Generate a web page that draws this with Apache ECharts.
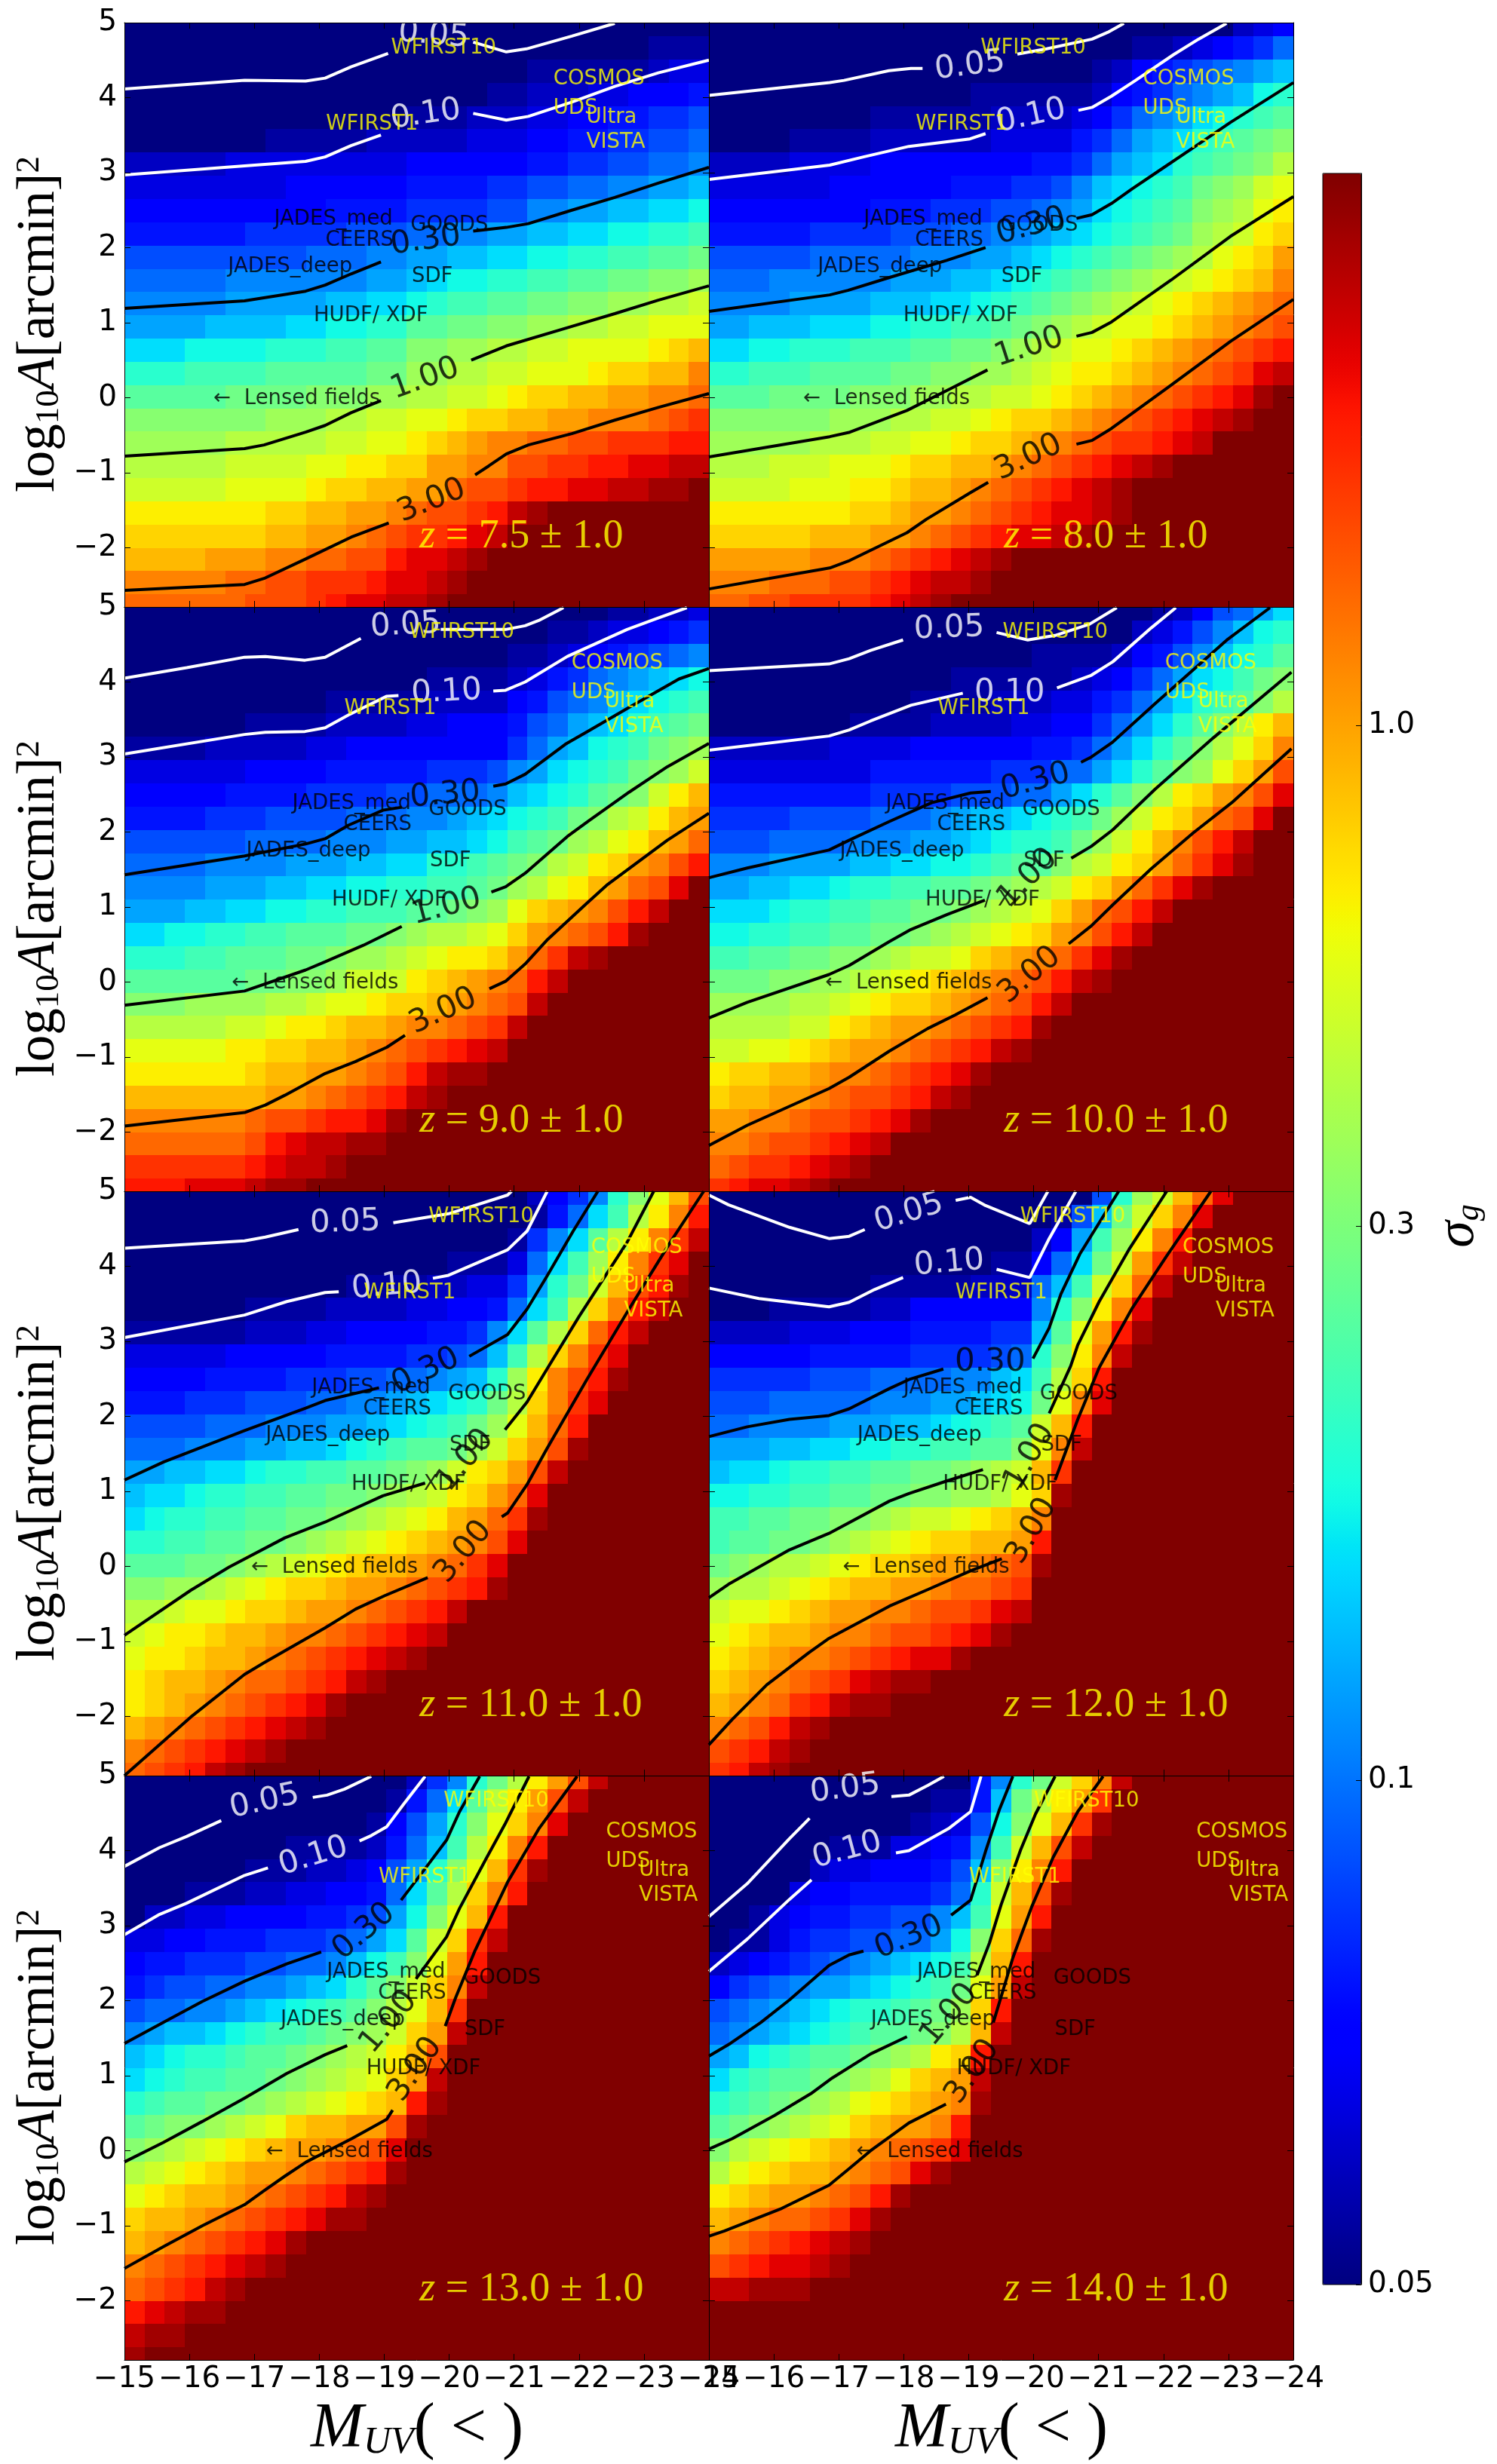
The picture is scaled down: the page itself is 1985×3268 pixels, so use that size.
<!DOCTYPE html>
<html><head><meta charset="utf-8">
<style>html,body{margin:0;padding:0;background:#fff}#c{width:1985px;height:3268px}</style>
<script src="https://cdn.jsdelivr.net/npm/echarts@6/dist/echarts.min.js"></script>
</head><body><div id="c"></div>
<script>
// sigma_g heat-map cells, one string per row (top to bottom),
// one character per M_UV column: index into the colour bar (0 = bottom, z = top). Short rows repeat their last cell.
const cellsZ75=["0","00000000000000000000000000111","00000000000000000000111111233","00000000000000000011222334445","00000000000000111222334455667","00000001111122222333445566778","22222333333333444444556677889","33333333444444555566778899aab","4444444444555566667799aabbccd","555555666667778899aabbccddeef","77777777788899aabbccddeeffggh","888889999999aabcddeeffgghhiij","99999aaaaabbccdeffgghhiijjkkl","aaaabbbbccddeegghhiijjkkllmmm","cccddddeeeffggiijjkkllmmmmnop","eeeffffggggghhjjkkllmmmnooppr","ggggghhhhiiijjkkllmnooppqqrrs","iiiiiiijjjkkllmmnooppqqrrrstu","jjjjjkkkkkllmmnopqrrssttuuuvv","kkkkkllllmmnnooqqrrttuuvvwwxx","lllllmmmmnooppqqsttuvvwwxxyyz","nnnnnnnooppqqrsttuvxyz","oooooooppqqrstuuvwxz","ppppqqqrrssttvwwxyz","rrrrrssttuuuvwwxyz","sssssstttuvwwxxyz"];
const cellsZ80=["00000000000000000000000000234","00000000000000000000011234568","000000000000000000012456789ab","0000000000000111111245689abde","00000000111111222234689acdefg","000011112222223333568abcefghi","22223333444444445568abcefghik","3333334444445556679bcdefhijlm","444444445556667789acdefgijkmn","5555566667778899abcdefghjklno","7777788888999aabcdefghijkmnoq","888999999aaabbcdefghijklmnopr","9999aaaabbbccdefghijklmnopqrs","aabbbcccddeeffghijklmmnopqrst","ccddeeefffgghhijklmmnopqrstuv","eefffgggghhiijjklmnnopqrstuwx","ggghhhhiiijjkkllmnopqrstuvwyz","iiiiiijjjkkllmnoopqrstuvwxyz","jjjjjkkkllmmnoopqrstuuvwxz","kkklllmmmnooppqrstuvwxyz","llllmmmnnoppqrstuvwxyz","nnnnnnnoopqqrstuvwwxyz","ooooopppqqrstuvwwxyz","qqqqqrrrstuvwxyz","rrrsssttuvwxxyz","ssttuuuuvwxyz"];
const cellsZ90=["00000000000000000000000011223","00000000000000000000011233456","00000000000000000001123456789","0000000000000001111235689abcd","000000000011111222245789bcdef","0000001111222233444578abcefgh","111122222334444444468abdefhij","33333344445555566679acdefhijl","4444455556666778889bcdeghilnp","5555666777788899abcdefhiklnpq","7777778888999aabbcdfghjkmnpqs","88889999aaabbcceefghiklnoqrtv","9999aaabbccddeeffghjkmnpqstwz","aaabbccddeefffgghijmopqrtvxz","ccddeeffggghhijkklmoqrstvyz","eeeffggghhijjklmnnoqsuxyz","gggggghhiijlllnopqrsvxz","iiijjjjkklmmnoopqrstxz","kkkkkllmnnoppqrrstuxz","mmmmmnnooppqrstuvwxz","nnnnnnoppqqrstvxyyz","pppppppqqrstuvxyz","rrrrrrsttuvvwyz","sssssstvwxxyyz","uuuuuuvwxxyz","vvvwwwxyyz"];
const cellsZ100=["000000000000000000000012478ac","00000000000000000000023579bde","00000000000000001111245 79bdeg".replace(" ",""),"00000000000011111123468acdfhi","0000000000111122233568acefgik","00000001111222233 4468acegiknp".replace(" ",""),"22222233334444445568acegikmor","3333333355555566688acegijmoqt","55555555666677788acegiknoqrtw","666677778889abbcdefhjlnoqstwz","77788889 99aabcdeefhjlnprtvxz".replace(" ",""),"999aaaabbccddefggiklnoqsuwyz","aabbccdeeffgghijklnoqsuwyz","cccdeeffgghhijklmoqstvxz","ddeeffgghhijklmnoqrtvxz","ffgghhiijkllmopqrsuwyz","hhhiijjklmnopqrstvxyz","jjjjkklmnoopqrstvxz","kkkkllnopqqrstuvyz","llmmnopqqrstuvxyz","nooppqrrstuvwyz","oppqqrsttuvxyz","qqrrsttuvwyz","rrsttuvwxz","stuuvwxyz","uvwwxyz"];
const cellsZ110=["000000000000000000002469eimpt","00000000000000000000158cfknrv","0000000000000000000169cgknrux","000000000000000011138cfjnruwz","000000000001111223 36aehlptvyz".replace(" ",""),"000000111122223344 58cfkorvxz".replace(" ",""),"11111122233444455 69cgkosvxz".replace(" ",""),"333334444455556678bfkoruwz","4444555566677889abejnrtvyz","5556667778899abcdehkoruwz","7777888999aabcdefhjmpsvz","888999aabbcdefgghjloqtyz","aabbccdeeffgghijlnoqtxz","bccdeeffgghhijklnoqswz","cdeeffgghhijklmnpqsuyz","eeffgghhijklmnopqrtwz","ggghhijklmnoppqrsuwz","iijjklmnoopqqrstuvyz","kklmmnoopqqrstuvxz","lmnnoppqrrstuvwxz","mnnoppqrstuvwxyz","noppqrsstuvxyz","nopqrstuvwyz","pqrstuvwxyz","rstuvwxyz","stuvxyz"];
const cellsZ120=["00000000000000000007ejlpswz","000000000000000001 7bhlorwz".replace(" ",""),"000000000000000024afjnrvz","000000000000001148chlquxz","00000000111112228bflosxz","000111112244444 49einrwz".replace(" ",""),"2222333444555566bgmqvyz","4444455555666678einrxz","66666777888899bcfkovz","77788888999aabcdhmrwz","889999aaabbcdefglpvz","aaabbccddeeffggimrxz","bccdeeffgghhijklpuz","ddeeffgghhiijjkmoyz","ffgghhiijkllmnoprz","fgghhijklmnooppqvz","hijkklmnoopqqrstyz","jkklmnoppqqrsstuz","lmmnopqqrrsttuwxz","mnoppqrrsttuvwyz","nopqrrstuvwwyz","opqrstuwxyyz","pqrsuvxyyz","rstvxyz","tuvxyz","uvxyz"];
const cellsZ130=["00000000000000269ehknqtxz","0000000000000158cgknqtxz","000000000000147aeimorwz","000000001111258bfknrvz","00000011122347aeimpuyz","00011122334458cgkorvz","0223344445567adimpvz","334455566678acglouxz","45566677889bdfimqvz","56778899abcegilorxz","78899abcdefgikmpuz","9abbcdeffghijloqxz","bcdeefgghijklnptz","cdeffgghijklmoqxz","efgghhijklmnopvyz","ghiijklmoppqqtyz","ijklmnopqqrstwz","klmnopqqrstuvyz","mnoppqrstuvxyz","oppqrstuvwyyz","pqrstuvwyz","rstuvwxyz","stuvxyz","vwxyyz","xyyz","yz"];
const cellsZ140=["000000000000059ehlorxz","00000000000115bhknquz","00000000001237dimpuyz","00000011133459flptxz","0000023344457binrvz","000034455556 8elptyz".replace(" ",""),"00134556677 9bfmqvz".replace(" ",""),"01135667788adiosyz","23456789abcdfkpvz","46789aabcdefhmqxz","789abcdeefghjovz","89abcdefgghikpxz","abdefgghijknovz","cefgghijkmopqxz","efghijkmnopqryz","ghijklmopqqrvz","iklmnopqrstuwz","kmnoppqrstwyz","nopqqrstvyz","pqrsstuwyz","rstuvwxyz","tuvwwxyz","xxyyyz","z","z","z"];

// Contours: sigma_g levels, each as [segment before its label, segment after]; points are [M_UV, log10 A]
const contourLevels=["0.05","0.10","0.30","1.00","3.00"];
const linesZ75=[
[[[-15,4.115],[-16.85,4.23],[-17.79,4.22],[-18.09,4.26],[-18.49,4.41],[-19.06,4.59]],[[-20.37,4.74],[-20.88,4.61],[-21.19,4.65],[-21.89,4.82],[-22.55,4.99]]],
[[[-15,2.97],[-16.85,3.09],[-17.79,3.15],[-18.09,3.21],[-18.49,3.36],[-18.95,3.5]],[[-20.37,3.79],[-20.88,3.7],[-21.22,3.75],[-21.89,3.94],[-22.55,4.15],[-23.22,4.33],[-24,4.5]]],
[[[-15,1.19],[-16.85,1.29],[-17.79,1.42],[-18.09,1.5],[-18.49,1.65],[-18.95,1.81]],[[-20.37,2.22],[-20.88,2.27],[-21.22,2.32],[-21.89,2.5],[-22.55,2.67],[-23.22,2.86],[-24,3.07]]],
[[[-15,-0.78],[-16.85,-0.68],[-17.15,-0.63],[-17.79,-0.46],[-18.09,-0.37],[-18.49,-0.2],[-18.95,-0.04]],[[-20.34,0.5],[-20.88,0.69],[-21.89,0.95],[-22.55,1.12],[-23.22,1.3],[-24,1.49]]],
[[[-15,-2.57],[-16.85,-2.49],[-17.15,-2.41],[-17.79,-2.15],[-18.49,-1.86],[-19.07,-1.67]],[[-20.4,-1.03],[-20.61,-0.91],[-20.88,-0.75],[-21.22,-0.63],[-21.89,-0.48],[-22.55,-0.3],[-23.22,-0.13],[-24,0.055]]]];
const linesZ80=[
[[[-15,4.03],[-16.86,4.2],[-17.08,4.23],[-17.77,4.36],[-18.11,4.39],[-18.29,4.39]],[[-19.75,4.58],[-20.2,4.65],[-20.9,4.78],[-21.14,4.87],[-21.39,4.99]]],
[[[-15,2.91],[-16.86,3.1],[-17.38,3.21],[-18.08,3.35],[-19.02,3.45],[-19.26,3.52]],[[-20.69,3.83],[-20.9,3.87],[-21.2,4.02],[-21.57,4.23],[-22.15,4.57],[-22.54,4.78],[-22.97,4.99]]],
[[[-15,1.15],[-16.86,1.37],[-17.14,1.43],[-17.81,1.61],[-18.66,1.83],[-19.26,2]],[[-20.66,2.39],[-20.9,2.44],[-21.2,2.59],[-21.51,2.78],[-21.87,2.99],[-22.54,3.38],[-23.03,3.67],[-24,4.2]]],
[[[-15,-0.79],[-16.86,-0.52],[-17.17,-0.46],[-18.05,-0.17],[-18.72,0.12],[-19.29,0.37]],[[-20.66,0.82],[-20.9,0.87],[-21.2,1.01],[-22.12,1.57],[-23.03,2.15],[-24,2.68]]],
[[[-15,-2.55],[-16.86,-2.27],[-17.17,-2.17],[-18.05,-1.8],[-18.35,-1.62],[-19.02,-1.27],[-19.3,-1.13]],[[-20.66,-0.62],[-20.9,-0.57],[-21.2,-0.41],[-22.12,0.17],[-23.03,0.75],[-24,1.31]]]];
const linesZ90=[
[[[-15,4.05],[-15.96,4.19],[-16.85,4.33],[-17.17,4.34],[-17.78,4.29],[-18.09,4.33],[-18.64,4.58]],[[-19.87,4.7],[-20.58,4.7],[-20.87,4.7],[-21.17,4.75],[-21.38,4.82],[-21.76,4.99]]],
[[[-15,3.04],[-16.85,3.3],[-17.17,3.33],[-17.78,3.34],[-18.09,3.39],[-18.45,3.56],[-19.04,3.81],[-19.22,3.82]],[[-20.68,3.88],[-20.87,3.89],[-21.17,4],[-21.82,4.34],[-22.74,4.7],[-23.18,4.84],[-23.66,4.99]]],
[[[-15,1.43],[-16.85,1.68],[-17.79,1.84],[-18.09,1.91],[-18.45,2.09],[-18.98,2.29],[-19.27,2.33]],[[-20.68,2.61],[-20.87,2.64],[-21.17,2.77],[-21.79,3.17],[-22.15,3.35],[-22.77,3.66],[-23.54,4.04],[-24,4.18]]],
[[[-15,-0.31],[-16.85,-0.12],[-17.79,0.16],[-18.09,0.27],[-18.68,0.49],[-19.27,0.74]],[[-20.65,1.2],[-20.87,1.27],[-21.17,1.45],[-21.82,1.94],[-22.15,2.15],[-22.77,2.53],[-23.36,2.87],[-24,3.18]]],
[[[-15,-1.92],[-16.85,-1.74],[-17.17,-1.64],[-17.47,-1.51],[-18.09,-1.22],[-18.56,-1.06],[-19.04,-0.87],[-19.32,-0.71]],[[-20.62,-0.09],[-20.87,0.01],[-21.17,0.24],[-21.52,0.57],[-22.12,1.05],[-22.44,1.3],[-23.36,1.89],[-24,2.25]]]];
const linesZ100=[
[[[-15,4.15],[-16.85,4.24],[-17.16,4.31],[-17.49,4.42],[-17.99,4.56]],[[-19.43,4.66],[-19.91,4.56],[-20.33,4.62],[-20.86,4.77],[-21.28,4.99]]],
[[[-15,3.09],[-16.85,3.28],[-17.16,3.36],[-17.49,3.48],[-18.11,3.69],[-18.91,3.85]],[[-20.36,3.92],[-20.89,4.09],[-21.22,4.27],[-21.81,4.72],[-22.19,4.99]]],
[[[-15,1.39],[-15.59,1.52],[-16.85,1.76],[-17.16,1.89],[-17.78,2.14],[-18.43,2.39],[-19.03,2.52],[-19.34,2.54]],[[-20.73,2.93],[-20.89,3],[-21.22,3.2],[-21.87,3.71],[-22.99,4.57],[-23.64,4.99]]],
[[[-15,-0.48],[-15.59,-0.27],[-16.85,0.1],[-17.16,0.22],[-17.78,0.54],[-18.11,0.7],[-18.67,0.9],[-19.25,1.09]],[[-20.58,1.65],[-20.89,1.81],[-21.22,2.03],[-21.87,2.57],[-22.76,3.25],[-23.97,4.13]]],
[[[-15,-2.18],[-15.59,-1.91],[-16.85,-1.42],[-17.16,-1.27],[-17.78,-0.92],[-18.37,-0.62],[-18.79,-0.44],[-19.29,-0.21]],[[-20.54,0.51],[-20.89,0.75],[-21.22,1.03],[-21.81,1.51],[-22.46,1.99],[-23.05,2.39],[-23.97,3.11]]]];
const linesZ110=[
[[[-15,4.24],[-16.85,4.34],[-17.17,4.39],[-17.68,4.49]],[[-19.14,4.58],[-19.99,4.7],[-20.9,4.95],[-20.96,5]]],
[[[-15,3.05],[-16.85,3.35],[-17.5,3.53],[-18.09,3.65],[-18.3,3.66]],[[-19.75,3.84],[-19.99,3.88],[-20.9,4.22],[-21.2,4.47],[-21.51,5]]],
[[[-15,1.15],[-15.6,1.39],[-16.85,1.81],[-17.79,2.11],[-18.09,2.21],[-18.92,2.38]],[[-20.31,2.8],[-20.9,3.09],[-21.2,3.43],[-21.5,3.86],[-21.91,4.47],[-22.29,5]]],
[[[-15,-0.92],[-16.02,-0.32],[-16.61,-0.01],[-17.47,0.38],[-18.09,0.59],[-18.98,0.94],[-19.63,1.11]],[[-20.86,1.82],[-21.2,2.19],[-21.5,2.62],[-22,3.33],[-22.74,4.32],[-23.15,5]]],
[[[-15,-2.79],[-16.02,-2.01],[-16.85,-1.44],[-17.14,-1.29],[-18.09,-0.82],[-18.56,-0.57],[-19.01,-0.39],[-19.67,-0.15]],[[-20.81,0.66],[-20.9,0.71],[-21.2,1.09],[-21.5,1.56],[-22.12,2.49],[-22.77,3.43],[-23.42,4.34],[-23.92,5]]]];
const linesZ120=[
[[[-15,4.95],[-15.3,4.82],[-16.24,4.52],[-16.85,4.37],[-17.16,4.4],[-17.4,4.49]],[[-18.8,4.88],[-19.03,4.92],[-19.26,4.81],[-19.94,4.57],[-20.09,4.8],[-20.22,5]]],
[[[-15,3.71],[-15.77,3.57],[-16.85,3.46],[-17.16,3.52],[-17.55,3.69],[-17.99,3.85]],[[-19.43,3.96],[-19.94,3.85],[-20.24,4.37],[-20.65,5]]],
[[[-15,1.73],[-15.59,1.86],[-16.24,1.96],[-16.85,2.01],[-17.16,2.1],[-17.78,2.37],[-18.08,2.49],[-18.61,2.63]],[[-19.99,2.77],[-20.24,3.18],[-20.42,3.63],[-20.71,4.16],[-21.31,5]]],
[[[-15,-0.42],[-15.3,-0.24],[-16.24,0.22],[-16.85,0.44],[-17.78,0.87],[-18.08,0.97],[-18.67,1.14],[-19.22,1.29]],[[-20.24,2.04],[-20.57,2.67],[-20.68,2.95],[-21.01,3.53],[-21.48,4.24],[-22.05,5]]],
[[[-15,-2.38],[-15.36,-2.04],[-15.89,-1.58],[-16.54,-1.15],[-16.85,-0.96],[-17.78,-0.53],[-18.37,-0.31],[-19.03,-0.06],[-19.51,0.1]],[[-20.33,1.15],[-20.68,1.96],[-21.01,2.65],[-21.51,3.43],[-22.05,4.14],[-22.73,5]]]];
const linesZ130=[
[[[-15,3.79],[-15.54,4.04],[-15.96,4.19],[-16.49,4.4]],[[-17.9,4.71],[-18.12,4.74],[-18.39,4.82],[-18.8,4.99]]],
[[[-15,2.88],[-15.54,3.15],[-15.96,3.3],[-16.85,3.67],[-17.21,3.77]],[[-18.62,4.13],[-18.8,4.2],[-19.04,4.32],[-19.3,4.62],[-19.63,4.99]]],
[[[-15,1.43],[-15.6,1.71],[-16.2,1.99],[-16.85,2.26],[-17.5,2.49],[-18.03,2.65]],[[-19.26,3.34],[-19.63,3.76],[-19.96,4.14],[-20.16,4.52],[-20.47,4.99]]],
[[[-15,-0.15],[-15.6,0.11],[-16.2,0.39],[-16.85,0.7],[-17.5,1.03],[-18.09,1.28],[-18.43,1.4]],[[-19.49,2.29],[-19.96,2.85],[-20.16,3.23],[-20.58,3.91],[-20.87,4.37],[-21.23,4.99]]],
[[[-15,-1.57],[-15.6,-1.28],[-16.2,-1],[-16.85,-0.72],[-17.14,-0.54],[-17.47,-0.34],[-17.8,-0.15],[-18.5,0.16],[-19.04,0.42],[-19.13,0.54]],[[-19.94,1.66],[-20.1,2.04],[-20.4,2.67],[-20.9,3.58],[-21.38,4.29],[-21.97,4.99]]]];
const linesZ140=[
[[[-15,3.12],[-15.59,3.56],[-16.24,4.16],[-16.55,4.43]],[[-17.81,4.72],[-18.08,4.74],[-18.37,4.87],[-18.62,4.99]]],
[[[-15,2.39],[-15.59,2.82],[-16.24,3.35],[-16.58,3.61]],[[-17.88,3.97],[-18.08,4],[-18.7,4.3],[-19.03,4.52],[-19.19,4.99]]],
[[[-15,1.26],[-15.33,1.43],[-15.8,1.71],[-16.24,2.01],[-16.85,2.47],[-17.16,2.61],[-17.38,2.66]],[[-18.73,3.14],[-19.03,3.34],[-19.26,3.99],[-19.47,4.54],[-19.68,4.99]]],
[[[-15,0.02],[-15.36,0.16],[-16.01,0.47],[-16.57,0.76],[-16.9,0.97],[-17.49,1.29],[-18.05,1.52]],[[-19.13,2.34],[-19.32,2.77],[-19.5,3.28],[-19.8,4.01],[-20.03,4.49],[-20.33,4.99]]],
[[[-15,-1.14],[-15.24,-1.07],[-16.12,-0.77],[-16.85,-0.46],[-17.16,-0.24],[-17.49,0],[-18.08,0.37],[-18.65,0.62]],[[-19.38,1.71],[-19.68,2.57],[-19.97,3.25],[-20.3,3.91],[-20.68,4.52],[-21.07,4.99]]]];

// Contour label anchor points: [M_UV, log10 A, rotation in degrees]
const tagsZ75=[[-19.76,4.83,-5],[-19.64,3.77,8],[-19.64,2.09,8],[-19.63,0.25,20],[-19.73,-1.38,22]];
const tagsZ80=[[-19.02,4.42,7],[-19.96,3.75,12],[-19.96,2.28,15],[-19.93,0.67,18],[-19.92,-0.8,25]];
const tagsZ90=[[-19.33,4.75,3],[-19.96,3.86,3],[-19.94,2.49,5],[-19.96,1,15],[-19.91,-0.39,25]];
const tagsZ100=[[-18.7,4.71,2],[-19.63,3.85,0],[-20.03,2.67,15],[-19.91,1.38,45],[-19.94,0.09,40]];
const tagsZ110=[[-18.4,4.58,2],[-19.04,3.73,5],[-19.64,2.6,25],[-20.25,1.41,50],[-20.22,0.19,50]];
const tagsZ120=[[-18.08,4.71,17],[-18.7,4.04,5],[-19.33,2.72,0],[-19.94,1.46,60],[-19.97,0.47,60]];
const tagsZ130=[[-17.16,4.65,12],[-17.91,3.92,17],[-18.69,2.92,40],[-19.07,1.71,50],[-19.48,1.08,55]];
const tagsZ140=[[-17.1,4.82,7],[-17.13,4,15],[-18.08,2.84,22],[-18.7,1.81,50],[-19.06,1.05,55]];

const panelLabels=["z = 7.5 ± 1.0","z = 8.0 ± 1.0","z = 9.0 ± 1.0","z = 10.0 ± 1.0","z = 11.0 ± 1.0","z = 12.0 ± 1.0","z = 13.0 ± 1.0","z = 14.0 ± 1.0"];
const surveyShift=[0,0.08,0.28,0.42,0.58,0.69,0.81,0.9];
const surveyNames=["WFIRST10","WFIRST1","COSMOS","UDS","Ultra","VISTA","JADES_med","CEERS","GOODS","JADES_deep","SDF","HUDF/ XDF","←  Lensed fields"];
const surveyM=[-19.11,-18.11,-21.61,-21.61,-22.12,-22.12,-17.31,-18.1,-19.41,-16.6,-19.43,-17.92,-16.38];
const surveyLogA=[4.55,3.54,4.14,3.75,3.63,3.30,2.27,1.99,2.19,1.64,1.51,0.99,-0.12];
const surveyColor=["#ffff00","#ffff00","#ffff00","#ffff00","#ffff00","#ffff00","#000","#000","#000","#000","#000","#000","#000"];
const xTicks=[-15,-16,-17,-18,-19,-20,-21,-22,-23,-24];
const yTicks=[-2,-1,0,1,2,3,4,5];
const barTickLabels=["0.05","0.1","0.3","1.0"];
const barTickLevels=[0,8.365,17.55,25.85];

const allCells=[cellsZ75,cellsZ80,cellsZ90,cellsZ100,cellsZ110,cellsZ120,cellsZ130,cellsZ140];
const allLines=[linesZ75,linesZ80,linesZ90,linesZ100,linesZ110,linesZ120,linesZ130,linesZ140];
const allTags=[tagsZ75,tagsZ80,tagsZ90,tagsZ100,tagsZ110,tagsZ120,tagsZ130,tagsZ140];

const ALPHA="0123456789abcdefghijklmnopqrstuvwxyz";
const NCOL=29, DM=9/29, YTOP=5.128, DY=0.31, YMIN=-2.79;
const SANS='"DejaVu Sans"', SERIF='"Liberation Serif"';

function jet(t){
  const seg=(p)=>{for(let i=1;i<p.length;i++){if(t<=p[i][0]){const a=p[i-1],b=p[i];return a[1]+(b[1]-a[1])*(t-a[0])/(b[0]-a[0]);}}return p[p.length-1][1];};
  const r=seg([[0,0],[.35,0],[.66,1],[.89,1],[1,.5]]),g=seg([[0,0],[.125,0],[.375,1],[.64,1],[.91,0],[1,0]]),b=seg([[0,.5],[.11,1],[.34,1],[.65,0],[1,0]]);
  const h=v=>Math.round(v*255).toString(16).padStart(2,'0');
  return '#'+h(r)+h(g)+h(b);
}
const jetStops=[];for(let i=0;i<=140;i++)jetStops.push(jet(i/140));

const grids=[],xAxes=[],yAxes=[],series=[],heatIdx=[];
const GX=[165,940],GY=[30,805,1580,2355],GW=775,GH=775;
const tickStyle={show:true,inside:true,length:8,lineStyle:{color:'#000',width:1}};
const fmt=v=>String(v).replace('-','−');

allCells.forEach((rows,p)=>{
  const col=p%2,row=Math.floor(p/2),isLeft=col===0,isBottom=row===3;
  grids.push({left:GX[col],top:GY[row],width:GW,height:GH,containLabel:false,show:false});
  const xBase={type:'value',min:-24,max:-15,inverse:true,gridIndex:p,z:6,splitLine:{show:false},
    axisLine:{show:true,onZero:false,lineStyle:{color:'#000',width:1}},axisTick:Object.assign({},tickStyle,{customValues:xTicks})};
  xAxes.push(Object.assign({},xBase,{position:'bottom',
    axisLabel:{show:isBottom,customValues:xTicks,formatter:fmt,fontFamily:SANS,fontSize:39,color:'#000',margin:6,hideOverlap:false}}));
  xAxes.push(Object.assign({},xBase,{position:'top',axisLabel:{show:false}}));
  const yBase={type:'value',min:YMIN,max:5,gridIndex:p,z:6,splitLine:{show:false},
    axisLine:{show:true,onZero:false,lineStyle:{color:'#000',width:1}},axisTick:Object.assign({},tickStyle,{customValues:yTicks})};
  yAxes.push(Object.assign({},yBase,{position:'left',
    axisLabel:{show:isLeft,customValues:yTicks,formatter:fmt,fontFamily:SANS,fontSize:39,color:'#000',margin:10,hideOverlap:false}}));
  yAxes.push(Object.assign({},yBase,{position:'right',axisLabel:{show:false}}));
  const xi=2*p,yi=2*p;

  const data=[];
  rows.forEach((s,j)=>{
    for(let i=0;i<NCOL;i++){
      const ch=i<s.length?s[i]:s[s.length-1];
      data.push([-15-(i+0.5)*DM,YTOP-(j+0.5)*DY,ALPHA.indexOf(ch)]);
    }
  });
  heatIdx.push(series.length);
  series.push({type:'custom',xAxisIndex:xi,yAxisIndex:yi,clip:true,silent:true,z:2,
    encode:{x:0,y:1},data:data,
    renderItem:(params,api)=>{
      const m=api.value(0),a=api.value(1);
      const p1=api.coord([m+DM/2,a+DY/2]),p2=api.coord([m-DM/2,a-DY/2]);
      const x1=Math.round(p1[0]),y1=Math.round(p1[1]),x2=Math.round(p2[0]),y2=Math.round(p2[1]);
      return {type:'rect',shape:{x:x1,y:y1,width:x2-x1,height:y2-y1},style:{fill:api.visual('color')}};
    }});

  allLines[p].forEach((ln,k)=>{
    series.push({type:'line',xAxisIndex:xi,yAxisIndex:yi,silent:true,z:3,symbol:'none',smooth:false,clip:true,connectNulls:false,
      lineStyle:{color:k<2?'#fff':'#000',width:4},
      data:ln[0].concat([[null,null]],ln[1])});
  });
  series.push({type:'scatter',xAxisIndex:xi,yAxisIndex:yi,silent:true,z:4,symbolSize:1,itemStyle:{color:'transparent'},clip:false,
    data:allTags[p].map((t,k)=>({value:[t[0],t[1]],label:{show:true,position:'inside',formatter:contourLevels[k],rotate:t[2],
      fontFamily:SANS,fontSize:42,color:k<2?'#fff':'#000',align:'center',verticalAlign:'middle'}}))});
  series.push({type:'scatter',xAxisIndex:xi,yAxisIndex:yi,silent:true,z:5,symbolSize:1,itemStyle:{color:'transparent'},clip:false,
    data:surveyNames.map((n,k)=>({value:[surveyM[k]-surveyShift[p],surveyLogA[k]],label:{show:true,position:[0,0],offset:[0,4],formatter:n,
      fontFamily:SANS,fontSize:27.5,color:surveyColor[k],align:'left',verticalAlign:'bottom'}})).concat([
      {value:[-19.55,-2.03],label:{show:true,position:[0,0],offset:[0,10],
        formatter:'{i|z}{n|'+panelLabels[p].slice(1)+'}',align:'left',verticalAlign:'bottom',
        rich:{i:{fontFamily:SERIF,fontStyle:'italic',fontSize:54,color:'#ffff00'},n:{fontFamily:SERIF,fontSize:54,color:'#ffff00'}}}}])});
});

// colour bar axis
const barGrid=grids.length;
grids.push({left:1754,top:230,width:51,height:2800,show:false});
xAxes.push({type:'value',gridIndex:barGrid,show:false,min:0,max:1});
yAxes.push({type:'value',gridIndex:barGrid,position:'right',min:0,max:35,z:20,splitLine:{show:false},
  axisLine:{show:true,onZero:false,lineStyle:{color:'#000',width:1}},
  axisTick:{show:true,inside:true,length:7,customValues:barTickLevels,lineStyle:{color:'#000',width:1}},
  axisLabel:{show:true,customValues:barTickLevels,margin:9,fontFamily:SANS,fontSize:39,color:'#000',hideOverlap:false,
    formatter:v=>barTickLabels[barTickLevels.indexOf(v)]}});

const graphic=[];
const ylab=(cy)=>({type:'text',x:52,y:cy,rotation:Math.PI/2,z:30,style:{
  text:'{n|log}{s|10}{i|A}{n|[arcmin]}{p|2}',align:'center',verticalAlign:'middle',
  rich:{n:{fontFamily:SERIF,fontSize:71,fill:'#000'},i:{fontFamily:SERIF,fontStyle:'italic',fontSize:71,fill:'#000'},
        s:{fontFamily:SERIF,fontSize:45,fill:'#000',verticalAlign:'bottom'},p:{fontFamily:SERIF,fontSize:45,fill:'#000',verticalAlign:'top'}}}});
[430,1205,1980,2755].forEach(c=>graphic.push(ylab(c)));
const xlab=(cx)=>({type:'text',x:cx,y:3223,z:30,style:{
  text:'{i|M}{s|UV}{n|( < )}',align:'center',verticalAlign:'middle',
  rich:{i:{fontFamily:SERIF,fontStyle:'italic',fontSize:84,fill:'#000'},s:{fontFamily:SERIF,fontStyle:'italic',fontSize:50,fill:'#000',verticalAlign:'bottom'},n:{fontFamily:SERIF,fontSize:84,fill:'#000'}}}});
graphic.push(xlab(553),xlab(1328));
graphic.push({type:'text',x:1934,y:1626,rotation:Math.PI/2,z:30,style:{text:'{i|σ}{s|g}',align:'center',verticalAlign:'middle',
  rich:{i:{fontFamily:SERIF,fontStyle:'italic',fontSize:72,fill:'#000'},s:{fontFamily:SERIF,fontStyle:'italic',fontSize:44,fill:'#000',verticalAlign:'bottom'}}}});
graphic.push({type:'rect',shape:{x:1754,y:230,width:51,height:2800},z:30,style:{fill:'none',stroke:'#000',lineWidth:1}});

const chart=echarts.init(document.getElementById('c'),null,{renderer:'canvas'});
chart.setOption({animation:false,backgroundColor:'#fff',tooltip:{show:false},grid:grids,xAxis:xAxes,yAxis:yAxes,series:series,graphic:graphic,
  visualMap:{type:'continuous',min:0,max:35,dimension:2,seriesIndex:heatIdx,calculable:false,show:true,hoverLink:false,realtime:false,
    left:1754,top:230,itemWidth:51,itemHeight:2800,padding:0,text:null,showLabel:false,inRange:{color:jetStops},textStyle:{fontSize:0}}});
</script></body></html>
